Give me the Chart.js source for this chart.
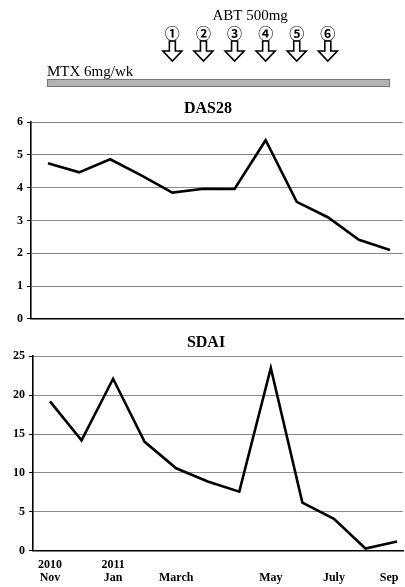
<!DOCTYPE html>
<html>
<head>
<meta charset="utf-8">
<script src="https://cdn.jsdelivr.net/npm/chart.js@4.4.0/dist/chart.umd.min.js"></script>
<style>
  html, body { margin: 0; padding: 0; background: #fff; }
  #wrap { position: relative; width: 405px; height: 587px; overflow: hidden; }
  #c1 { position: absolute; left: 0; top: 0; }
  #c2 { position: absolute; left: 0; top: 330px; }
</style>
</head>
<body>
<div id="wrap">
  <canvas id="c1" width="405" height="330"></canvas>
  <canvas id="c2" width="405" height="262"></canvas>
</div>
<script>
// ---- data ----
const visits = [0, 1, 2, 3, 4, 5, 6, 7, 8, 9, 10, 11];
const das28 = [4.75, 4.47, 4.87, 4.38, 3.85, 3.97, 3.96, 5.45, 3.57, 3.10, 2.41, 2.10];
const sdai = [19.2, 14.2, 22.1, 14.0, 10.6, 8.9, 7.6, 23.5, 6.2, 4.1, 0.3, 1.2];
const xTickVisits = [0, 2, 4, 7, 9, 10.75];
const xTickLabels = [["2010", "Nov"], ["2011", "Jan"], ["", "March"], ["", "May"], ["", "July"], ["", "Sep"]];
const doseVisits = [4, 5, 6, 7, 8, 9];
const doseLabels = ["①", "②", "③", "④", "⑤", "⑥"];
const abtLabel = "ABT 500mg";
const mtxLabel = "MTX 6mg/wk";

const serif = "'Liberation Serif', 'Times New Roman', serif";

function pts(vals) { return visits.map((v, i) => ({ x: v, y: vals[i] })); }

const headerPlugin = {
  id: 'header',
  afterDraw(chart) {
    const ctx = chart.ctx;
    const xs = chart.scales.x;
    ctx.save();
    const first = xs.getPixelForValue(doseVisits[0]);
    const last = xs.getPixelForValue(doseVisits[doseVisits.length - 1]);
    ctx.fillStyle = '#000';
    ctx.font = "15px " + serif;
    ctx.textAlign = 'center';
    ctx.textBaseline = 'alphabetic';
    ctx.fillText(abtLabel, (first + last) / 2, 20);
    doseVisits.forEach((v, i) => {
      const cx = xs.getPixelForValue(v);
      ctx.fillStyle = '#000';
      ctx.font = "bold 15px 'Noto Sans CJK JP', 'DejaVu Sans', sans-serif";
      ctx.textBaseline = 'middle';
      ctx.textAlign = 'center';
      ctx.fillText(doseLabels[i], cx, 33);
      ctx.beginPath();
      const sw = 3, hw = 9.5, top = 41, mid = 51, tip = 61;
      ctx.moveTo(cx - sw, top);
      ctx.lineTo(cx + sw, top);
      ctx.lineTo(cx + sw, mid);
      ctx.lineTo(cx + hw, mid);
      ctx.lineTo(cx, tip);
      ctx.lineTo(cx - hw, mid);
      ctx.lineTo(cx - sw, mid);
      ctx.closePath();
      ctx.fillStyle = '#fff';
      ctx.fill();
      ctx.lineWidth = 1.6;
      ctx.strokeStyle = '#000';
      ctx.stroke();
    });
    const bx0 = xs.getPixelForValue(visits[0]) - 1;
    const bx1 = xs.getPixelForValue(visits[visits.length - 1]);
    ctx.fillStyle = '#000';
    ctx.font = "15px " + serif;
    ctx.textAlign = 'left';
    ctx.textBaseline = 'alphabetic';
    ctx.fillText(mtxLabel, bx0, 76);
    ctx.fillStyle = '#b4b4b4';
    ctx.fillRect(bx0, 79, bx1 - bx0, 8);
    ctx.strokeStyle = '#777';
    ctx.lineWidth = 1;
    ctx.strokeRect(bx0 + 0.5, 79.5, bx1 - bx0 - 1, 7);
    ctx.restore();
  }
};

function makeChart(id, title, vals, yMax, yStep, xMin, xMax, showX, padding, titlePad) {
  return new Chart(document.getElementById(id), {
    type: 'line',
    data: {
      datasets: [{
        data: pts(vals),
        borderColor: '#000',
        borderWidth: 2.6,
        pointRadius: 0,
        tension: 0,
        fill: false
      }]
    },
    options: {
      responsive: false,
      animation: false,
      layout: { padding: padding },
      plugins: {
        legend: { display: false },
        tooltip: { enabled: false },
        title: {
          display: true,
          text: title,
          color: '#000',
          font: { family: serif, size: 16, weight: 'bold' },
          padding: titlePad
        }
      },
      scales: {
        x: {
          type: 'linear',
          min: xMin,
          max: xMax,
          grid: { display: false, drawTicks: false },
          border: { display: true, color: '#000', width: 1.5 },
          afterBuildTicks: (s) => { s.ticks = xTickVisits.map(v => ({ value: v })); },
          ticks: {
            display: showX,
            autoSkip: false,
            maxRotation: 0,
            padding: 7.4,
            color: '#000',
            font: { family: serif, size: 12, weight: 'bold', lineHeight: 1.1 },
            callback: (v) => {
              const k = xTickVisits.indexOf(v);
              return k >= 0 ? xTickLabels[k] : '';
            }
          },
          afterFit: (s) => { s.paddingRight = 0; s.paddingLeft = 0; }
        },
        y: {
          min: 0,
          max: yMax,
          grid: { color: '#8a8a8a', lineWidth: 1, tickLength: 4, tickColor: '#000' },
          border: { display: true, color: '#000', width: 1.6 },
          ticks: {
            stepSize: yStep,
            padding: 4,
            color: '#000',
            font: { family: serif, size: 12, weight: 'bold' }
          }
        }
      }
    },
    plugins: id === 'c1' ? [headerPlugin] : []
  });
}

makeChart('c1', 'DAS28', das28, 6, 1, -0.547, 11.418, false,
  { top: 99, left: 13, right: 2, bottom: 7 }, { top: 0, bottom: 4 });
makeChart('c2', 'SDAI', sdai, 25, 5, -0.539, 11.19, true,
  { top: 3, left: 9, right: 2, bottom: 0 }, { top: 0, bottom: 4 });
</script>
</body>
</html>
